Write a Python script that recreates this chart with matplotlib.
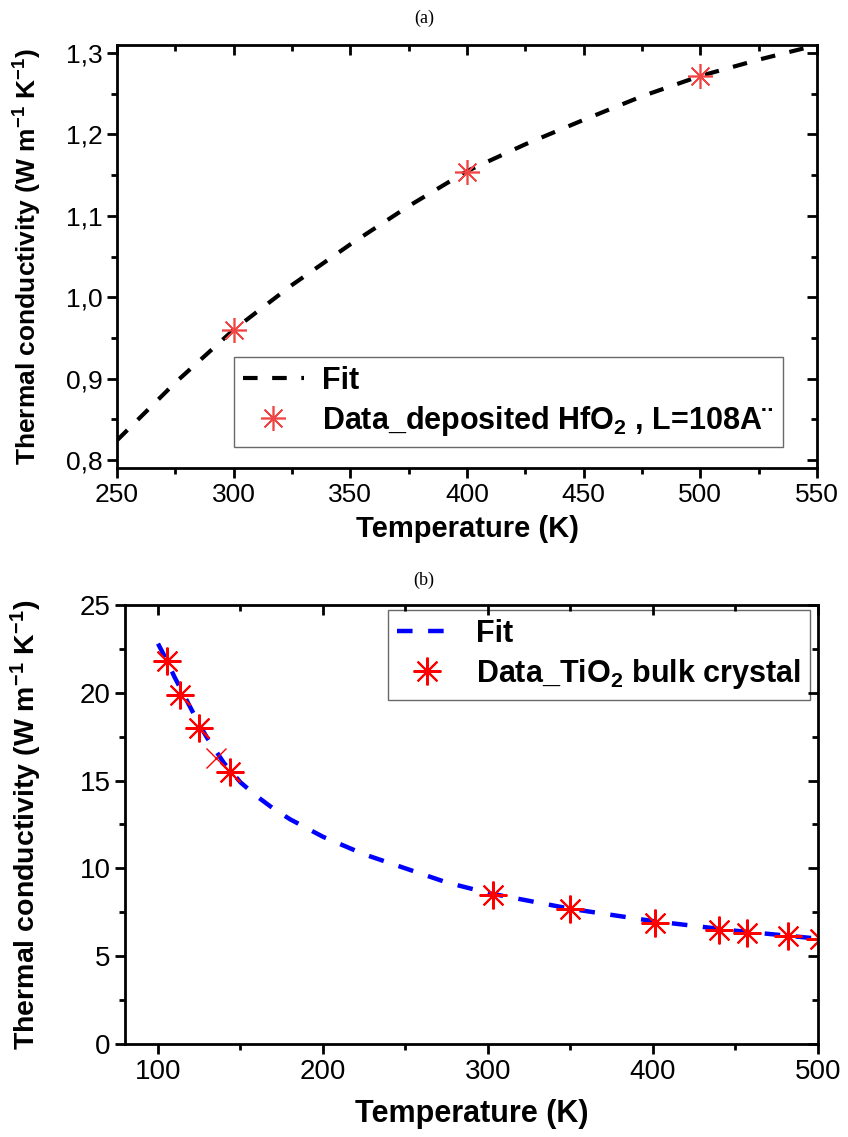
import numpy as np
import matplotlib.pyplot as plt
from matplotlib.ticker import MultipleLocator, FuncFormatter

plt.rcParams['font.family'] = ['Liberation Sans', 'DejaVu Sans']
plt.rcParams['mathtext.fontset'] = 'custom'
plt.rcParams['mathtext.rm'] = 'Liberation Sans:bold'
plt.rcParams['mathtext.bf'] = 'Liberation Sans:bold'
plt.rcParams['mathtext.it'] = 'Liberation Sans:bold'

# (a) deposited HfO2 film
t_a = [300, 400, 500]
k_a = [0.960, 1.154, 1.272]
fit_t_a = [250, 275, 300, 325, 350, 375, 400, 425, 450, 475, 500, 525, 550]
fit_k_a = [0.824, 0.895, 0.960, 1.015, 1.065, 1.112, 1.155, 1.188, 1.218, 1.247, 1.272, 1.292, 1.310]

# (b) TiO2 bulk crystal
t_b = [105.5, 113.4, 124.9, 143.7, 303, 350, 401, 440, 457, 482, 501]
k_b = [21.8, 19.9, 18.0, 15.5, 8.5, 7.7, 6.9, 6.5, 6.3, 6.15, 6.0]
t_b_extra = [135.2]
k_b_extra = [16.3]
fit_t_b = [100, 105, 110, 115, 120, 125, 130, 140, 150, 160, 170, 180, 200, 225, 250, 275, 300, 350, 400, 450, 500]
fit_k_b = [22.8, 21.9, 20.9, 20.0, 19.1, 18.2, 17.4, 16.0, 14.9, 14.1, 13.4, 12.8, 11.8, 10.8, 10.0, 9.2, 8.6, 7.7, 7.0, 6.45, 6.0]

ylab = r'Thermal conductivity (W m$^{-1}$ K$^{-1}$)'
star = (8, 2, 0)

fig = plt.figure(figsize=(8.48, 11.37), dpi=100)
ax1 = fig.add_axes([0.138, 0.5884, 0.8255, 0.372])
ax2 = fig.add_axes([0.1474, 0.0818, 0.8172, 0.3861])


def style_axes(ax, size):
    for s in ax.spines.values():
        s.set_linewidth(2.0)
    ax.tick_params(which='major', direction='out', length=7, width=2, labelsize=size)
    ax.tick_params(which='minor', direction='out', length=4, width=2)
    # mirrored ticks on top and right point inwards
    tx = ax.twiny()
    tx.set_xlim(ax.get_xlim())
    tx.xaxis.set_major_locator(ax.xaxis.get_major_locator())
    tx.xaxis.set_minor_locator(ax.xaxis.get_minor_locator())
    tx.tick_params(which='major', direction='in', length=7, width=2, labeltop=False)
    tx.tick_params(which='minor', direction='in', length=4, width=2)
    ty = ax.twinx()
    ty.set_ylim(ax.get_ylim())
    ty.yaxis.set_major_locator(ax.yaxis.get_major_locator())
    ty.yaxis.set_minor_locator(ax.yaxis.get_minor_locator())
    ty.tick_params(which='major', direction='in', length=7, width=2, labelright=False)
    ty.tick_params(which='minor', direction='in', length=4, width=2)
    for t in (tx, ty):
        t.patch.set_visible(False)
        for s in t.spines.values():
            s.set_visible(False)


# panel (a)
ax1.plot(fit_t_a, fit_k_a, color='black', lw=3, dashes=(3.5, 3.5), label='Fit')
ax1.plot(t_a, k_a, linestyle='none', marker=star, markersize=18, color='#f04545',
         markeredgewidth=1.2, label='Data_deposited HfO$_2$ , L=108A\u00a8')
ax1.set_xlim(250, 550)
ax1.set_ylim(0.79, 1.31)
ax1.xaxis.set_major_locator(MultipleLocator(50))
ax1.xaxis.set_minor_locator(MultipleLocator(25))
ax1.yaxis.set_major_locator(MultipleLocator(0.1))
ax1.yaxis.set_minor_locator(MultipleLocator(0.05))
ax1.yaxis.set_major_formatter(FuncFormatter(lambda v, p: f'{v:.1f}'.replace('.', ',')))
ax1.set_xlabel('Temperature (K)', fontsize=21, fontweight='bold')
ax1.set_ylabel(ylab, fontsize=19, fontweight='bold')
ax1.xaxis.set_label_coords(0.5, -0.11)
ax1.yaxis.set_label_coords(-0.104, 0.5)
leg1 = ax1.legend(loc='lower right', bbox_to_anchor=(0.951, 0.05), borderaxespad=0,
                  prop={'weight': 'bold', 'size': 22}, frameon=True, fancybox=False,
                  edgecolor='#444444', handlelength=2.0, handletextpad=0.6,
                  borderpad=0.3, labelspacing=0.25)
leg1.get_frame().set_linewidth(1.0)
style_axes(ax1, 19)

# panel (b)
ax2.plot(fit_t_b, fit_k_b, color='#0000ff', lw=3.2, dashes=(3.5, 3.5), label='Fit')
ax2.plot(t_b, k_b, linestyle='none', marker=star, markersize=20, color='#ff0000',
         markeredgewidth=1.5, label='Data_TiO$_2$ bulk crystal')
ax2.plot(t_b_extra, k_b_extra, linestyle='none', marker='x', markersize=14, color='#ff0000',
         markeredgewidth=1.0)
ax2.set_xlim(80, 500)
ax2.set_ylim(0, 25)
ax2.xaxis.set_major_locator(MultipleLocator(100))
ax2.xaxis.set_minor_locator(MultipleLocator(50))
ax2.yaxis.set_major_locator(MultipleLocator(5))
ax2.yaxis.set_minor_locator(MultipleLocator(2.5))
ax2.set_xlabel('Temperature (K)', fontsize=22, fontweight='bold')
ax2.set_ylabel(ylab, fontsize=20.5, fontweight='bold')
ax2.xaxis.set_label_coords(0.5, -0.125)
ax2.yaxis.set_label_coords(-0.117, 0.5)
leg2 = ax2.legend(loc='upper right', bbox_to_anchor=(0.9885, 0.9886), borderaxespad=0,
                  prop={'weight': 'bold', 'size': 22}, frameon=True, fancybox=False,
                  edgecolor='#444444', handlelength=2.0, handletextpad=0.6,
                  borderpad=0.3, labelspacing=0.25)
leg2.get_frame().set_linewidth(1.0)
style_axes(ax2, 20)

fig.text(0.5, 1 - 18 / 1137, '(a)', ha='center', va='center', fontsize=13, family='Liberation Serif')
fig.text(0.5, 1 - 580 / 1137, '(b)', ha='center', va='center', fontsize=13, family='Liberation Serif')

fig.savefig('out.png', dpi=100)
